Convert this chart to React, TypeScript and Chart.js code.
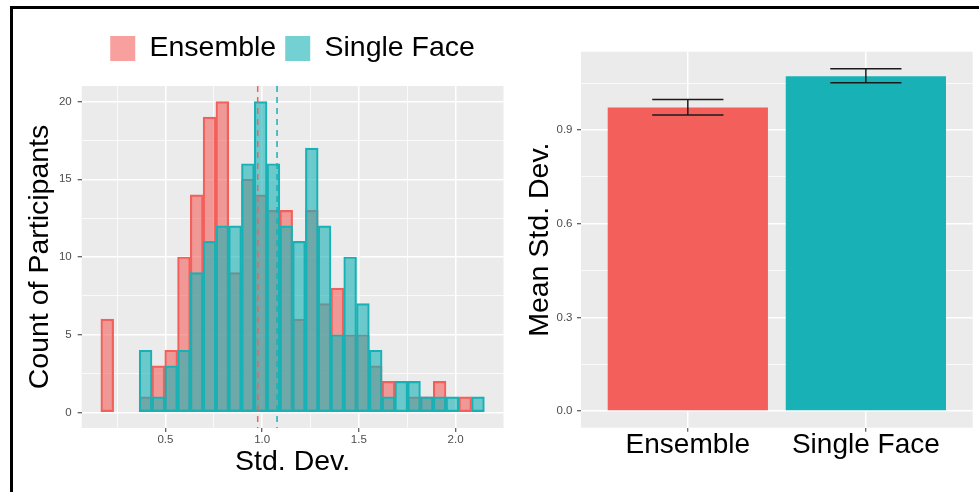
import React, { useEffect, useRef } from "react";
import { Chart, registerables } from "chart.js";

Chart.register(...registerables);

// ---------- data ----------
const seriesNames = ["Ensemble", "Single Face"];
const binCenters = [
  0.1991, 0.2652, 0.3313, 0.3974, 0.4635, 0.5296, 0.5957, 0.6618, 0.7279, 0.794,
  0.8601, 0.9262, 0.9923, 1.0584, 1.1245, 1.1906, 1.2567, 1.3228, 1.3889, 1.455,
  1.5211, 1.5872, 1.6533, 1.7194, 1.7855, 1.8516, 1.9177, 1.9838, 2.0499, 2.116,
];
const ensembleCounts = [6, 0, 0, 1, 3, 4, 10, 14, 19, 20, 9, 15, 14, 13, 13, 6, 13, 7, 8, 5, 5, 3, 2, 0, 1, 1, 2, 0, 1, 0];
const singleFaceCounts = [0, 0, 0, 4, 1, 3, 4, 9, 11, 12, 12, 16, 20, 16, 12, 11, 17, 12, 5, 10, 7, 4, 1, 2, 2, 1, 1, 1, 0, 1];
const histMeans = [0.977, 1.077];

const histXMajor = [0.5, 1.0, 1.5, 2.0];
const histXMinor = [0.25, 0.75, 1.25, 1.75];
const histYMajor = [0, 5, 10, 15, 20];
const histYMinor = [2.5, 7.5, 12.5, 17.5];

const categories = ["Ensemble", "Single Face"];
const meanStd = [0.972, 1.072];
const errLow = [0.948, 1.051];
const errHigh = [0.998, 1.096];
const barYMajor = [0, 0.3, 0.6, 0.9];
const barYMinor = [0.15, 0.45, 0.75, 1.05];

// ---------- styles ----------
const FONT = "'Liberation Sans', Arial, Helvetica, sans-serif";
const RED = "#F3605B";
const CYAN = "#18B2B6";
const RED_FILL = "rgba(243,96,91,0.6)";
const CYAN_FILL = "rgba(24,178,182,0.6)";
const PANEL = "#EBEBEB";
const TICK_TEXT = "#4D4D4D";
const TICK_MARK = "#333333";

const near = (arr: number[], v: number) => arr.some((a) => Math.abs(a - v) < 1e-6);

const panelBg = {
  id: "panelBg",
  beforeDraw(chart: any) {
    const { ctx, chartArea: a } = chart;
    ctx.save();
    ctx.fillStyle = PANEL;
    ctx.fillRect(a.left, a.top, a.right - a.left, a.bottom - a.top);
    ctx.restore();
  },
};

const meanLines = {
  id: "meanLines",
  afterDatasetsDraw(chart: any) {
    const { ctx, chartArea: a } = chart;
    const xs = chart.scales.x;
    const cols = [RED, CYAN];
    ctx.save();
    ctx.lineWidth = 1.5;
    ctx.setLineDash([6, 5]);
    histMeans.forEach((v, i) => {
      const px = xs.getPixelForValue(v);
      ctx.strokeStyle = cols[i];
      ctx.beginPath();
      ctx.moveTo(px, a.top);
      ctx.lineTo(px, a.bottom);
      ctx.stroke();
    });
    ctx.restore();
  },
};

const errorBars = {
  id: "errorBars",
  afterDatasetsDraw(chart: any) {
    const { ctx } = chart;
    const xs = chart.scales.x;
    const ys = chart.scales.y;
    ctx.save();
    ctx.strokeStyle = "#1A1A1A";
    ctx.lineWidth = 1.5;
    categories.forEach((_, i) => {
      const cx = xs.getPixelForValue(i + 1);
      const half = xs.getPixelForValue(i + 1 + 0.2) - cx;
      const yl = ys.getPixelForValue(errLow[i]);
      const yh = ys.getPixelForValue(errHigh[i]);
      ctx.beginPath();
      ctx.moveTo(cx - half, yh);
      ctx.lineTo(cx + half, yh);
      ctx.moveTo(cx, yh);
      ctx.lineTo(cx, yl);
      ctx.moveTo(cx - half, yl);
      ctx.lineTo(cx + half, yl);
      ctx.stroke();
    });
    ctx.restore();
  },
};

function histConfig(): any {
  const mk = (label: string, counts: number[], fill: string, border: string, order: number) => ({
    label,
    data: binCenters.map((x, i) => ({ x, y: counts[i] })),
    backgroundColor: fill,
    borderColor: border,
    borderWidth: 1.5,
    borderSkipped: false,
    grouped: false,
    categoryPercentage: 1,
    barPercentage: 1,
    order,
  });
  return {
    type: "bar",
    data: {
      datasets: [
        mk(seriesNames[0], ensembleCounts, RED_FILL, RED, 1),
        mk(seriesNames[1], singleFaceCounts, CYAN_FILL, CYAN, 0),
      ],
    },
    options: {
      animation: false,
      responsive: false,
      maintainAspectRatio: false,
      events: [],
      layout: { padding: { top: 16.25, right: 6.5, bottom: 0, left: 0 } },
      plugins: {
        tooltip: { enabled: false },
        legend: {
          display: true,
          position: "top",
          fullSize: false,
          weight: 1000,
          labels: {
            boxWidth: 25,
            boxHeight: 25,
            padding: 9,
            color: "#000",
            font: { size: 28.5, family: FONT },
            sort: (a: any, b: any) => a.datasetIndex - b.datasetIndex,
            generateLabels: (chart: any) =>
              Chart.defaults.plugins.legend.labels
                .generateLabels(chart)
                .map((l: any) => ({ ...l, lineWidth: 0 })),
          },
        },
        title: {
          display: true,
          text: "",
          position: "top",
          weight: 500,
          fullSize: false,
          padding: { top: 3.25, bottom: 0 },
          font: { size: 10, lineHeight: 1, family: FONT },
        },
      },
      scales: {
        x: {
          type: "linear",
          min: 0.067,
          max: 2.248,
          offset: false,
          border: { display: false },
          grid: {
            offset: false,
            color: "#FFFFFF",
            lineWidth: (c: any) => (c.tick && near(histXMajor, c.tick.value) ? 1.5 : 0.75),
            tickColor: (c: any) => (c.tick && near(histXMajor, c.tick.value) ? TICK_MARK : "rgba(0,0,0,0)"),
            tickLength: 4,
            tickWidth: 1,
          },
          afterBuildTicks: (s: any) => {
            s.ticks = [...histXMinor, ...histXMajor].sort((a, b) => a - b).map((v) => ({ value: v }));
          },
          afterFit: (s: any) => {
            s.height = 64;
          },
          ticks: {
            autoSkip: false,
            maxRotation: 0,
            padding: 1.1,
            color: TICK_TEXT,
            font: { size: 11.5, family: FONT },
            callback: (v: any) => (near(histXMajor, v) ? Number(v).toFixed(1) : ""),
          },
          title: {
            display: true,
            text: "Std. Dev.",
            color: "#000",
            font: { size: 28.5, family: FONT, lineHeight: 1.2 },
            padding: { top: 0, bottom: 12.8 },
          },
        },
        y: {
          type: "linear",
          min: -1,
          max: 21,
          border: { display: false },
          grid: {
            color: "#FFFFFF",
            lineWidth: (c: any) => (c.tick && near(histYMajor, c.tick.value) ? 1.5 : 0.75),
            tickColor: (c: any) => (c.tick && near(histYMajor, c.tick.value) ? TICK_MARK : "rgba(0,0,0,0)"),
            tickLength: 4,
            tickWidth: 1,
          },
          afterBuildTicks: (s: any) => {
            s.ticks = [...histYMinor, ...histYMajor].sort((a, b) => a - b).map((v) => ({ value: v }));
          },
          afterFit: (s: any) => {
            s.width = 68.7;
          },
          ticks: {
            padding: 6,
            color: TICK_TEXT,
            font: { size: 11.5, family: FONT },
            callback: (v: any) => (near(histYMajor, v) ? String(v) : ""),
          },
          title: {
            display: true,
            text: "Count of Participants",
            color: "#000",
            font: { size: 28.5, family: FONT, lineHeight: 1.2 },
            padding: { top: 10.2, bottom: 0 },
          },
        },
      },
    },
    plugins: [panelBg, meanLines],
  };
}

function barConfig(): any {
  return {
    type: "bar",
    data: {
      datasets: [
        {
          label: "Mean Std. Dev.",
          data: categories.map((c, i) => ({ x: i + 1, y: meanStd[i] })),
          backgroundColor: [RED, CYAN],
          borderWidth: 0,
          categoryPercentage: 1,
          barPercentage: 0.9,
        },
      ],
    },
    options: {
      animation: false,
      responsive: false,
      maintainAspectRatio: false,
      events: [],
      layout: { padding: { top: 42.7, right: 6.3, bottom: 0, left: 0 } },
      plugins: { legend: { display: false }, tooltip: { enabled: false }, title: { display: false } },
      scales: {
        x: {
          type: "linear",
          min: 0.4,
          max: 2.6,
          offset: false,
          border: { display: false },
          grid: { offset: false, color: "#FFFFFF", lineWidth: 1.5, tickColor: TICK_MARK, tickLength: 4, tickWidth: 1 },
          afterBuildTicks: (s: any) => {
            s.ticks = categories.map((_, i) => ({ value: i + 1 }));
          },
          afterFit: (s: any) => {
            s.height = 64.3;
          },
          ticks: {
            autoSkip: false,
            maxRotation: 0,
            padding: -3,
            color: "#000",
            font: { size: 28, family: FONT },
            callback: (v: any) => categories[Math.round(v) - 1] ?? "",
          },
        },
        y: {
          type: "linear",
          min: -0.0535,
          max: 1.1508,
          border: { display: false },
          grid: {
            color: "#FFFFFF",
            lineWidth: (c: any) => (c.tick && near(barYMajor, c.tick.value) ? 1.5 : 0.75),
            tickColor: (c: any) => (c.tick && near(barYMajor, c.tick.value) ? TICK_MARK : "rgba(0,0,0,0)"),
            tickLength: 4,
            tickWidth: 1,
          },
          afterBuildTicks: (s: any) => {
            s.ticks = [...barYMinor, ...barYMajor].sort((a, b) => a - b).map((v) => ({ value: v }));
          },
          afterFit: (s: any) => {
            s.width = 68;
          },
          ticks: {
            padding: 4.5,
            color: TICK_TEXT,
            font: { size: 11.5, family: FONT },
            callback: (v: any) => (near(barYMajor, v) ? Number(v).toFixed(1) : ""),
          },
          title: {
            display: true,
            text: "Mean Std. Dev.",
            color: "#000",
            font: { size: 28.5, family: FONT, lineHeight: 1.2 },
            padding: { top: 10.2, bottom: 0 },
          },
        },
      },
    },
    plugins: [panelBg, errorBars],
  };
}

export default function App() {
  const histRef = useRef<HTMLCanvasElement>(null);
  const barRef = useRef<HTMLCanvasElement>(null);

  useEffect(() => {
    document.body.style.margin = "0";
    const h = new Chart(histRef.current as HTMLCanvasElement, histConfig());
    const b = new Chart(barRef.current as HTMLCanvasElement, barConfig());
    return () => {
      h.destroy();
      b.destroy();
    };
  }, []);

  return (
    <div
      style={{
        position: "absolute",
        left: 0,
        top: 0,
        width: 979,
        height: 492,
        overflow: "hidden",
        background: "#FFFFFF",
      }}
    >
      <div
        style={{
          position: "absolute",
          left: 10,
          top: 6,
          width: 1200,
          height: 700,
          border: "3px solid #000",
          boxSizing: "border-box",
        }}
      />
      <canvas
        ref={histRef}
        width={497}
        height={483}
        style={{ position: "absolute", left: 13, top: 9, width: 497, height: 483 }}
      />
      <canvas
        ref={barRef}
        width={466}
        height={483}
        style={{ position: "absolute", left: 513, top: 9, width: 466, height: 483 }}
      />
    </div>
  );
}
